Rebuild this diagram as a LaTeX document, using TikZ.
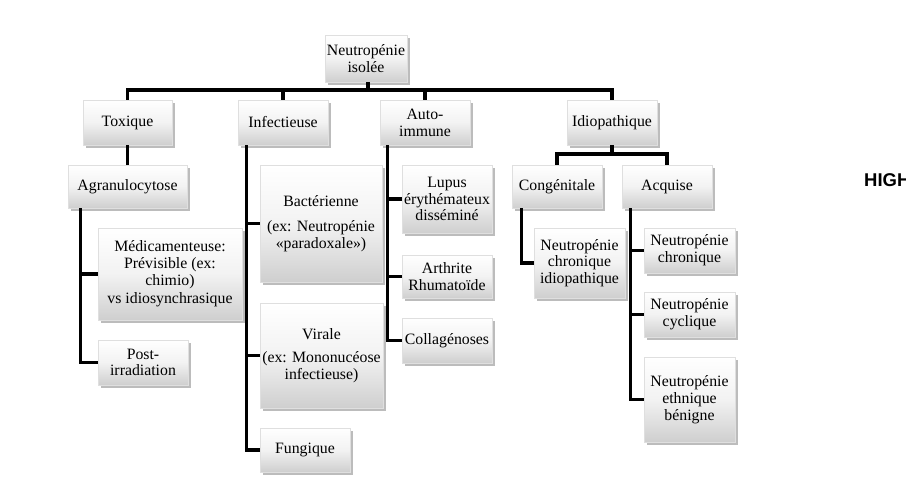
\documentclass[tikz,border=0pt]{standalone}
\usepackage{fontspec}
\setmainfont{Liberation Serif}
\newfontfamily\hisans{Liberation Sans}
\usetikzlibrary{shadows,calc}
\tikzset{
  box/.style={rectangle, draw=gray!25, line width=0.4pt,
    top color=white, bottom color=gray!38, middle color=gray!10,
    drop shadow={shadow xshift=2.5pt, shadow yshift=-2.5pt, opacity=0.4, fill=gray!70!black},
    align=center, inner sep=1pt,
    font=\fontsize{15.8}{16.8}\selectfont, text=black},
  conn/.style={line width=3.1pt, black},
}
\begin{document}
\begin{tikzpicture}[x=1pt,y=-1pt]
\useasboundingbox[fill=white] (0,0) rectangle (906,498);
% level 0
\node[box, minimum width=82, minimum height=47] (root) at (366,58.5) {Neutropénie\\isolée};
% level 1
\node[box, minimum width=89, minimum height=45] (tox) at (127.5,122.5) {Toxique};
\node[box, minimum width=90, minimum height=45] (inf) at (283,122.5) {Infectieuse};
\node[box, minimum width=90, minimum height=45] (aut) at (425,122.5) {Auto-\\immune};
\node[box, minimum width=90, minimum height=45] (idio) at (612,122.5) {Idiopathique};
% toxique branch
\node[box, minimum width=119, minimum height=43] (agr) at (127.5,186.5) {Agranulocytose};
\node[box, minimum width=144, minimum height=92] (med) at (170,274) {Médicamenteuse:\\Prévisible (ex:\\chimio)\\[2pt] vs idiosynchrasique};
\node[box, minimum width=90, minimum height=45] (post) at (143,362.5) {Post-\\irradiation};
% infectieuse branch
\node[box, minimum width=122, minimum height=117] (bact) at (321,223.5) {Bactérienne\\[8pt](ex: Neutropénie\\«paradoxale»)};
\node[box, minimum width=123, minimum height=105] (vir) at (321.5,355.5) {Virale\\[6pt](ex: Mononucéose\\infectieuse)};
\node[box, minimum width=90, minimum height=44] (fun) at (305,450) {Fungique};
% auto-immune branch
\node[box, minimum width=90, minimum height=68] (lup) at (447,199) {Lupus\\érythémateux\\disséminé};
\node[box, minimum width=90, minimum height=43] (art) at (447,276.5) {Arthrite\\Rhumatoïde};
\node[box, minimum width=90, minimum height=45] (col) at (447,340.5) {Collagénoses};
% idiopathique branch
\node[box, minimum width=90, minimum height=43] (cong) at (557,186.5) {Congénitale};
\node[box, minimum width=90, minimum height=43] (acq) at (667,186.5) {Acquise};
\node[box, minimum width=91, minimum height=70] (nci) at (579.5,263) {Neutropénie\\chronique\\idiopathique};
\node[box, minimum width=91, minimum height=45] (nc) at (689.5,250.5) {Neutropénie\\chronique};
\node[box, minimum width=91, minimum height=45] (ncy) at (689.5,314.5) {Neutropénie\\cyclique};
\node[box, minimum width=91, minimum height=85] (neb) at (689.5,399.5) {Neutropénie\\ethnique\\bénigne};
% clipped label on the right
\node[anchor=base west, inner sep=0, font=\hisans\bfseries\fontsize{18.5}{18.5}\selectfont] (hi) at (864,186) {HIGH};

% connectors
\coordinate (bar) at (368,90);
\draw[conn] (root.south -| bar) -- (bar);
\draw[conn] (tox.north) -- (tox.north |- bar) -- (idio.north |- bar) -- (idio.north);
\draw[conn] (inf.north) -- (inf.north |- bar);
\draw[conn] (aut.north) -- (aut.north |- bar);
\draw[conn] (tox.south) -- (agr.north);
% toxique spine
\coordinate (ts) at ($(agr.south west)+(13,0)$);
\draw[conn] (ts) |- (med.west);
\draw[conn] (ts) |- (post.west);
% infectieuse spine
\coordinate (is) at ($(inf.south west)+(9,0)$);
\draw[conn] (is) |- (bact.west);
\draw[conn] (is) |- (vir.west);
\draw[conn] (is) |- (fun.west);
% auto spine
\coordinate (as) at ($(aut.south west)+(8,0)$);
\draw[conn] (as) |- (lup.west);
\draw[conn] (as) |- (art.west);
\draw[conn] (as) |- (col.west);
% idiopathique
\coordinate (ib) at (612,154);
\draw[conn] (idio.south) -- (ib);
\draw[conn] (cong.north) -- (cong.north |- ib) -- (acq.north |- ib) -- (acq.north);
\coordinate (cs) at ($(cong.south west)+(10,0)$);
\draw[conn] (cs) |- (nci.west);
\coordinate (qs) at ($(acq.south west)+(9,0)$);
\draw[conn] (qs) |- (nc.west);
\draw[conn] (qs) |- (ncy.west);
\draw[conn] (qs) |- (neb.west);
\end{tikzpicture}
\end{document}
